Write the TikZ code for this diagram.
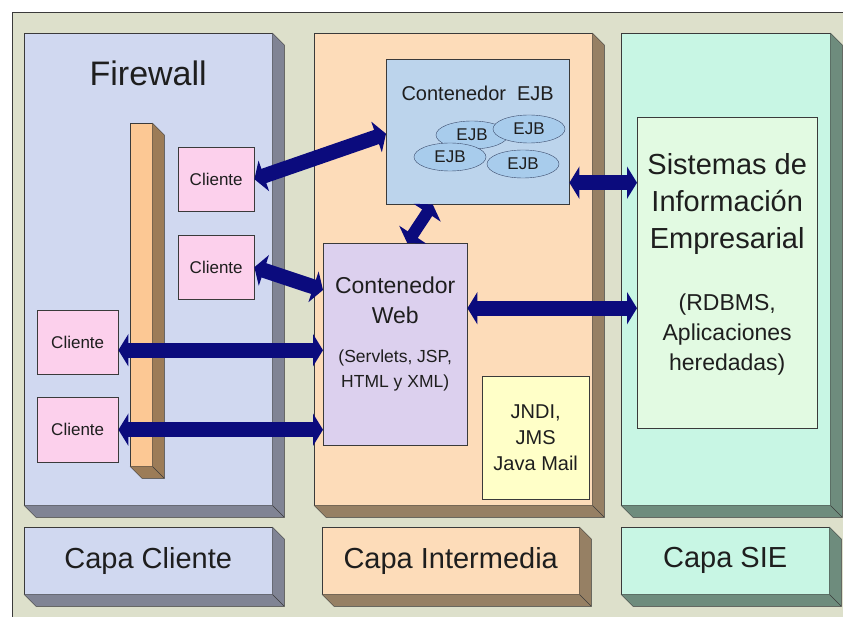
\documentclass[tikz,border=0pt]{standalone}
\usepackage{fontspec}
\setmainfont{Liberation Sans}
\usetikzlibrary{arrows.meta,positioning,shapes.geometric,calc}
\definecolor{BgSage}{HTML}{DDE0CB}
\definecolor{LineGray}{HTML}{3A3A3A}
\definecolor{TextDark}{HTML}{1E1E1E}
\definecolor{CliBlue}{HTML}{D0D8F0}
\definecolor{CliSide}{HTML}{808494}
\definecolor{MidPeach}{HTML}{FDDCB9}
\definecolor{MidSide}{HTML}{968064}
\definecolor{SieMint}{HTML}{C8F6E4}
\definecolor{SieSide}{HTML}{6E8C7D}
\definecolor{WallFront}{HTML}{FCC894}
\definecolor{WallSide}{HTML}{9C7C58}
\definecolor{ClientPink}{HTML}{FCD0EC}
\definecolor{EjbBlue}{HTML}{BCD4EC}
\definecolor{BeanBlue}{HTML}{A8CCEC}
\definecolor{BeanEdge}{HTML}{3A4A6A}
\definecolor{WebLilac}{HTML}{DCD0EE}
\definecolor{JndiYellow}{HTML}{FFFFC8}
\definecolor{SieLight}{HTML}{E2FAE2}
\definecolor{LinkNavy}{HTML}{0B0B7D}

% side and bottom faces of a raised block
\newcommand{\blockfaces}[2]{%
  \fill[#2] (#1.north east) -- ++(12,12) -- ([shift={(12,12)}]#1.south east)
    -- ([shift={(12,12)}]#1.south west) -- (#1.south west) -- (#1.south east) -- cycle;
  \draw[LineGray] (#1.north east) -- ++(12,12) -- ([shift={(12,12)}]#1.south east)
    -- ([shift={(12,12)}]#1.south west) -- (#1.south west);
  \draw[LineGray] (#1.south east) -- ++(12,12);
}

\begin{document}
\begin{tikzpicture}[x=1pt,y=-1pt,
  panel/.style={draw=LineGray,anchor=north west,inner sep=0pt},
  box/.style={panel,text=TextDark,align=center},
  title/.style={text=TextDark,align=center,inner sep=0pt},
  bean/.style={ellipse,draw=BeanEdge,fill=BeanBlue,minimum width=72pt,minimum height=28pt,
               inner sep=0pt,text=TextDark,font=\fontsize{17}{20}\selectfont},
  link/.style={{Triangle[length=10pt,width=32pt]}-{Triangle[length=10pt,width=32pt]},
               line width=15pt,draw=LinkNavy}
]
  \useasboundingbox (0,0) rectangle (843,617);
  \fill[white] (0,0) rectangle (843,617);
  \fill[BgSage] (12,12) rectangle (850,625);
  \draw[LineGray] (12,625) -- (12,12) -- (850,12);

  % tiers
  \node[panel,fill=CliBlue,minimum width=248pt,minimum height=472pt] (cliPanel) at (24,33) {};
  \blockfaces{cliPanel}{CliSide}
  \node[panel,fill=MidPeach,minimum width=278pt,minimum height=472pt] (midPanel) at (314,33) {};
  \blockfaces{midPanel}{MidSide}
  \node[panel,fill=SieMint,minimum width=209pt,minimum height=472pt] (siePanel) at (621,33) {};
  \blockfaces{siePanel}{SieSide}

  \node[title,font=\fontsize{34}{40}\selectfont] (fwTitle) at ([yshift=-40pt]cliPanel.north) {Firewall};

  % firewall wall
  \node[panel,fill=WallFront,minimum width=22pt,minimum height=343pt] (wall) at (130,123) {};
  \blockfaces{wall}{WallSide}

  % clients
  \node[box,fill=ClientPink,minimum width=76pt,minimum height=64pt,font=\fontsize{17}{20}\selectfont] (cli1) at (178,147) {Cliente};
  \node[box,fill=ClientPink,minimum width=76pt,minimum height=64pt,font=\fontsize{17}{20}\selectfont] (cli2) at (178,235) {Cliente};
  \node[box,fill=ClientPink,minimum width=81pt,minimum height=64pt,font=\fontsize{17}{20}\selectfont] (cli3) at (37,310) {Cliente};
  \node[box,fill=ClientPink,minimum width=81pt,minimum height=65pt,font=\fontsize{17}{20}\selectfont] (cli4) at (37,397) {Cliente};

  % middle tier
  \node[panel,fill=EjbBlue,minimum width=183pt,minimum height=145pt] (ejb) at (386,59) {};
  \node[title,font=\fontsize{20}{24}\selectfont] (ejbTitle) at ([yshift=-34pt]ejb.north) {Contenedor~~EJB};
  \node[bean] (bean1) at (472,135) {EJB};
  \node[bean] (bean2) at (529,129) {EJB};
  \node[bean] (bean3) at (450,157) {EJB};
  \node[bean] (bean4) at (523,164) {EJB};

  \node[panel,fill=WebLilac,minimum width=144pt,minimum height=202pt] (web) at (323,243) {};
  \node[title,font=\fontsize{23}{30}\selectfont] (webTitle) at ([yshift=-57pt]web.north) {Contenedor\\Web};
  \node[title,font=\fontsize{17.5}{25}\selectfont] (webText) at ([yshift=-127pt]web.north) {(Servlets, JSP,\\HTML y XML)};

  \node[box,fill=JndiYellow,minimum width=107pt,minimum height=123pt,font=\fontsize{20}{26}\selectfont] (jndi) at (482,376) {JNDI,\\JMS\\Java Mail};

  % EIS tier
  \node[panel,fill=SieLight,minimum width=180pt,minimum height=311pt] (sie) at (637,117) {};
  \node[title,font=\fontsize{29}{37}\selectfont] (sieTitle) at ([yshift=-87pt]sie.north) {Sistemas de\\Información\\Empresarial};
  \node[title,font=\fontsize{23}{30}\selectfont] (sieText) at ([yshift=-218pt]sie.north) {(RDBMS,\\Aplicaciones\\heredadas)};

  % tier labels
  \node[box,fill=CliBlue,minimum width=248pt,minimum height=67pt,font=\fontsize{29}{34}\selectfont] (capaCli) at (24,527) {Capa Cliente};
  \blockfaces{capaCli}{CliSide}
  \node[box,fill=MidPeach,minimum width=257pt,minimum height=67pt,font=\fontsize{29}{34}\selectfont] (capaMid) at (322,527) {Capa Intermedia};
  \blockfaces{capaMid}{MidSide}
  \node[box,fill=SieMint,minimum width=208pt,minimum height=67pt,font=\fontsize{29}{34}\selectfont] (capaSie) at (621,527) {Capa SIE};
  \blockfaces{capaSie}{SieSide}

  % connections
  \draw[link] (cli1.east) -- ([yshift=-2pt]ejb.west);
  \draw[link] (cli2.east) -- ([yshift=-47pt]web.north west);
  \draw[link] ([yshift=-8pt]cli3.east) -- ([yshift=-8pt]cli3.east -| web.west);
  \draw[link] (cli4.east) -- (cli4.east -| web.west);
  \draw[link] ([yshift=-51pt]ejb.east) -- ([yshift=-51pt]ejb.east -| sie.west);
  \draw[link] ([yshift=36pt]web.east) -- ([yshift=36pt]web.east -| sie.west);
  \draw[link,line width=12pt] ([xshift=-45pt]ejb.south) -- ([xshift=12pt]web.north);
\end{tikzpicture}
\end{document}
